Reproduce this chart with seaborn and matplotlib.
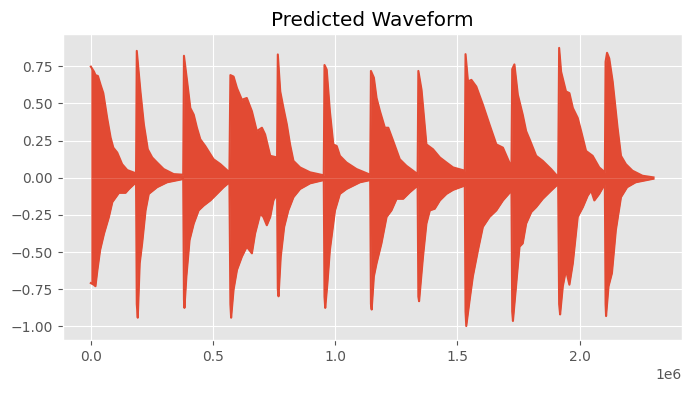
import numpy as np
import pandas as pd
import matplotlib
matplotlib.use("Agg")
import matplotlib.pyplot as plt
import seaborn as sns

# envelope of the predicted waveform (x in 1e6 samples)
upper_t = [0.000, 0.013, 0.019, 0.029, 0.040, 0.051, 0.067, 0.081, 0.092, 0.108, 0.128, 0.149, 0.185,
           0.188, 0.203, 0.217, 0.233, 0.251, 0.271, 0.298, 0.339, 0.378,
           0.381, 0.394, 0.407, 0.421, 0.434, 0.448, 0.468, 0.502, 0.530, 0.567,
           0.571, 0.584, 0.598, 0.618, 0.638, 0.659, 0.679, 0.700, 0.713, 0.734, 0.762,
           0.765, 0.775, 0.788, 0.802, 0.815, 0.829, 0.856, 0.897, 0.953,
           0.956, 0.965, 0.978, 0.992, 1.006, 1.019, 1.046, 1.087, 1.143,
           1.146, 1.158, 1.169, 1.183, 1.203, 1.217, 1.237, 1.264, 1.291, 1.337,
           1.340, 1.353, 1.373, 1.400, 1.428, 1.455, 1.482, 1.530,
           1.533, 1.543, 1.557, 1.577, 1.604, 1.631, 1.659, 1.686, 1.721,
           1.724, 1.733, 1.747, 1.767, 1.781, 1.795, 1.822, 1.849, 1.883, 1.912,
           1.916, 1.924, 1.944, 1.958, 1.972, 1.992, 2.006, 2.026, 2.053, 2.080, 2.103,
           2.106, 2.112, 2.121, 2.135, 2.155, 2.169, 2.189, 2.216, 2.257, 2.302]
upper_v = [0.747, 0.713, 0.690, 0.684, 0.624, 0.569, 0.400, 0.269, 0.202, 0.169, 0.091, 0.051, 0.029,
           0.853, 0.580, 0.358, 0.191, 0.136, 0.102, 0.058, 0.024, 0.020,
           0.820, 0.647, 0.469, 0.424, 0.336, 0.258, 0.213, 0.124, 0.091, 0.036,
           0.690, 0.680, 0.602, 0.524, 0.536, 0.447, 0.313, 0.336, 0.291, 0.147, 0.136,
           0.829, 0.580, 0.469, 0.358, 0.224, 0.113, 0.069, 0.036, 0.016,
           0.758, 0.727, 0.447, 0.224, 0.213, 0.147, 0.102, 0.058, 0.020,
           0.718, 0.673, 0.536, 0.447, 0.336, 0.336, 0.247, 0.124, 0.080, 0.024,
           0.718, 0.591, 0.224, 0.191, 0.136, 0.102, 0.069, 0.047,
           0.831, 0.647, 0.658, 0.613, 0.491, 0.358, 0.224, 0.202, 0.069,
           0.730, 0.762, 0.558, 0.424, 0.313, 0.258, 0.147, 0.113, 0.058, 0.004,
           0.873, 0.713, 0.580, 0.569, 0.469, 0.402, 0.313, 0.180, 0.147, 0.069, 0.036,
           0.780, 0.840, 0.802, 0.647, 0.336, 0.147, 0.091, 0.047, 0.013, 0.002]

lower_t = [0.000, 0.012, 0.019, 0.027, 0.038, 0.054, 0.074, 0.088, 0.115, 0.142, 0.156, 0.185,
           0.188, 0.192, 0.200, 0.210, 0.224, 0.237, 0.271, 0.312, 0.378,
           0.381, 0.383, 0.391, 0.404, 0.421, 0.441, 0.462, 0.489, 0.516, 0.543, 0.567,
           0.571, 0.574, 0.584, 0.598, 0.618, 0.638, 0.659, 0.672, 0.693, 0.706, 0.720, 0.734, 0.747, 0.762,
           0.765, 0.768, 0.777, 0.791, 0.808, 0.829, 0.856, 0.897, 0.953,
           0.956, 0.959, 0.968, 0.978, 0.999, 1.019, 1.046, 1.101, 1.143,
           1.146, 1.149, 1.158, 1.169, 1.189, 1.210, 1.230, 1.251, 1.278, 1.305, 1.337,
           1.340, 1.343, 1.359, 1.373, 1.387, 1.407, 1.428, 1.455, 1.482, 1.530,
           1.533, 1.536, 1.550, 1.563, 1.584, 1.604, 1.631, 1.659, 1.686, 1.721,
           1.724, 1.727, 1.736, 1.754, 1.767, 1.781, 1.802, 1.822, 1.849, 1.883, 1.912,
           1.916, 1.920, 1.931, 1.944, 1.958, 1.972, 1.992, 2.013, 2.033, 2.047, 2.060, 2.080, 2.103,
           2.106, 2.108, 2.118, 2.132, 2.148, 2.169, 2.194, 2.229, 2.302]
lower_v = [-0.709, -0.720, -0.730, -0.620, -0.487, -0.376, -0.264, -0.164, -0.102, -0.102, -0.076, -0.031,
           -0.850, -0.942, -0.576, -0.442, -0.220, -0.109, -0.064, -0.031, -0.009,
           -0.820, -0.876, -0.664, -0.420, -0.309, -0.220, -0.187, -0.153, -0.109, -0.064, -0.031,
           -0.850, -0.942, -0.753, -0.620, -0.531, -0.464, -0.509, -0.376, -0.242, -0.264, -0.320, -0.264, -0.153, -0.109,
           -0.750, -0.798, -0.531, -0.331, -0.220, -0.131, -0.076, -0.038, -0.016,
           -0.800, -0.876, -0.709, -0.487, -0.220, -0.109, -0.076, -0.031, -0.016,
           -0.850, -0.887, -0.664, -0.576, -0.442, -0.264, -0.220, -0.142, -0.142, -0.098, -0.053,
           -0.800, -0.831, -0.531, -0.309, -0.220, -0.209, -0.153, -0.109, -0.082, -0.053,
           -0.900, -0.998, -0.820, -0.664, -0.487, -0.331, -0.264, -0.220, -0.153, -0.087,
           -0.900, -0.964, -0.798, -0.464, -0.442, -0.309, -0.231, -0.198, -0.142, -0.087, -0.042,
           -0.850, -0.920, -0.731, -0.620, -0.720, -0.576, -0.264, -0.198, -0.120, -0.087, -0.153, -0.109, -0.042,
           -0.850, -0.931, -0.731, -0.642, -0.353, -0.131, -0.064, -0.031, -0.007]

up = pd.DataFrame({"sample": np.array(upper_t) * 1e6, "amp": upper_v})
lo = pd.DataFrame({"sample": np.array(lower_t) * 1e6, "amp": lower_v})

plt.style.use("ggplot")
color = "#E24A33"

fig, ax = plt.subplots(figsize=(6.92, 3.93), dpi=100)
fig.subplots_adjust(left=0.0906, right=0.985, bottom=0.135, top=0.9135)

ax.fill_between(up["sample"], up["amp"], 0, color=color, lw=0)
ax.fill_between(lo["sample"], lo["amp"], 0, color=color, lw=0)
sns.lineplot(data=up, x="sample", y="amp", ax=ax, color=color, lw=1.5, estimator=None, sort=False)
sns.lineplot(data=lo, x="sample", y="amp", ax=ax, color=color, lw=1.5, estimator=None, sort=False)

ax.set_xlabel("")
ax.set_ylabel("")
ax.set_title("Predicted Waveform")

plt.savefig("out.png", dpi=100)
